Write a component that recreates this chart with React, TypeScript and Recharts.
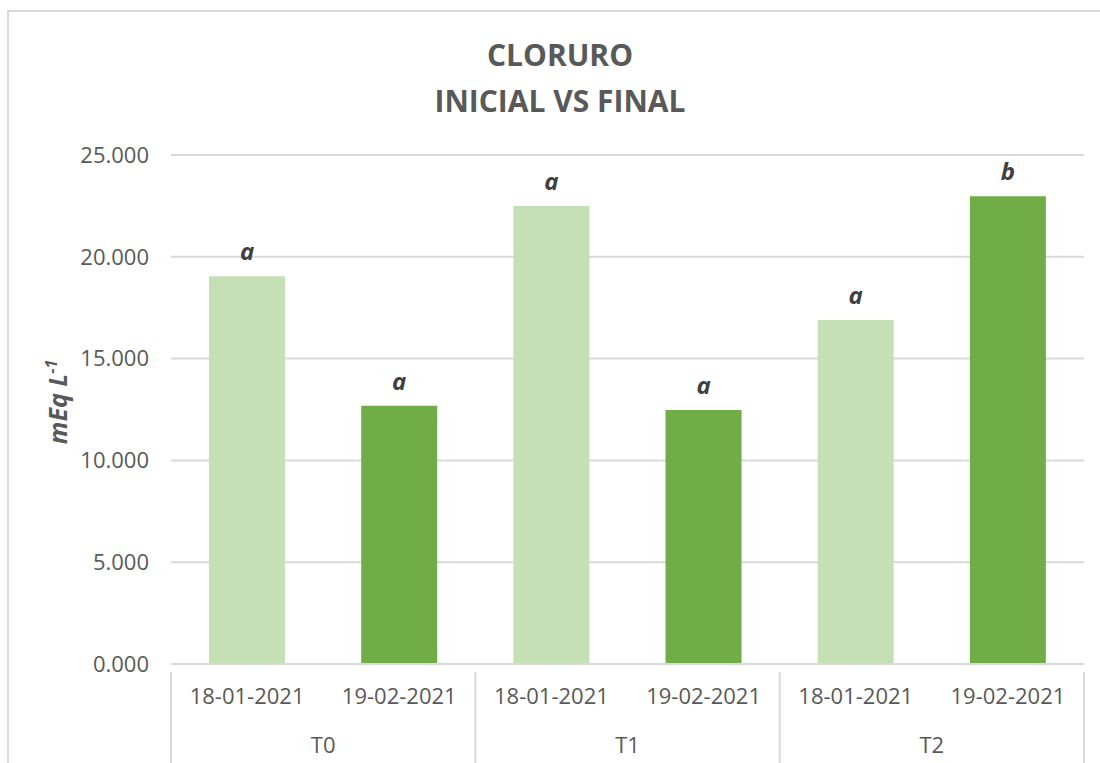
import React from "react"
import { BarChart, Bar, XAxis, YAxis, CartesianGrid, Cell, LabelList } from "recharts"

const dates = ["18-01-2021", "19-02-2021", "18-01-2021", "19-02-2021", "18-01-2021", "19-02-2021"]
const groups = ["T0", "T0", "T1", "T1", "T2", "T2"]
const values = [19.05, 12.68, 22.5, 12.48, 16.9, 22.98]
const letters = ["a", "a", "a", "a", "a", "b"]
const yTicks = [0, 5, 10, 15, 20, 25]

const LIGHT = "#C5E0B4"
const DARK = "#70AD47"
const TEXT = "#595959"
const LINE = "#D9D9D9"
const FONT = "'Open Sans', sans-serif"

const data = dates.map((d, i) => ({ key: i, date: d, group: groups[i], value: values[i], letter: letters[i] }))

const DateTick = ({ x, y, payload }: any) => (
  <text x={x} y={y} dy={32} textAnchor="middle" fill={TEXT} fontSize={22} fontFamily={FONT}>
    {dates[payload.index] ?? payload.value}
  </text>
)

const GroupTick = ({ x, y, payload, index }: any) => {
  const half = payload.offset ?? 0
  const top = y - 50
  const bottom = y + 43
  return (
    <g>
      <line x1={x - half} x2={x - half} y1={top} y2={bottom} stroke={LINE} strokeWidth={2} />
      {index === 2 && <line x1={x + half} x2={x + half} y1={top} y2={bottom} stroke={LINE} strokeWidth={2} />}
      <text x={x} y={y} dy={31} textAnchor="middle" fill={TEXT} fontSize={22} fontFamily={FONT}>
        {payload.value}
      </text>
    </g>
  )
}

const YLabel = () => (
  <text
    transform="translate(67,402) rotate(-90)"
    textAnchor="middle"
    fill={TEXT}
    fontSize={25}
    fontWeight="bold"
    fontStyle="italic"
    fontFamily={FONT}
  >
    mEq L
    <tspan fontSize={16} dy={-10}>-1</tspan>
  </text>
)

export default function App() {
  return (
    <div style={{ position: "absolute", left: 0, top: 0, width: 1100, height: 763, background: "#fff", overflow: "hidden" }}>
      <div
        style={{
          position: "absolute",
          left: 7,
          top: 10,
          width: 1100,
          height: 760,
          borderLeft: `2px solid ${LINE}`,
          borderTop: `2px solid ${LINE}`,
        }}
      />
      <div
        style={{
          position: "absolute",
          left: 0,
          top: 32,
          width: 1120,
          textAlign: "center",
          color: TEXT,
          fontFamily: FONT,
          fontWeight: 700,
          fontSize: 30,
          lineHeight: "46px",
        }}
      >
        <div>CLORURO</div>
        <div>INICIAL VS FINAL</div>
      </div>
      <div style={{ position: "absolute", left: 0, top: 0 }}>
        <BarChart
          width={1100}
          height={763}
          data={data}
          margin={{ top: 155, right: 16, bottom: 6, left: 0 }}
          barCategoryGap="25%"
        >
          <CartesianGrid vertical={false} stroke={LINE} strokeWidth={2} />
          <XAxis
            dataKey="key"
            axisLine={{ stroke: LINE, strokeWidth: 2 }}
            tickLine={false}
            tick={<DateTick />}
            height={50}
            interval={0}
          />
          <XAxis
            xAxisId="grp"
            dataKey="group"
            allowDuplicatedCategory={false}
            axisLine={false}
            tickLine={false}
            tick={<GroupTick />}
            height={43}
            interval={0}
          />
          <YAxis
            domain={[0, 25]}
            ticks={yTicks}
            width={171}
            axisLine={false}
            tickLine={false}
            tickSize={0}
            tickMargin={22}
            tickFormatter={(v: number) => v.toFixed(3)}
            tick={{ fill: TEXT, fontSize: 22, fontFamily: FONT }}
            label={<YLabel />}
          />
          <Bar dataKey="value" isAnimationActive={false}>
            {data.map((d, i) => (
              <Cell key={i} fill={i % 2 === 0 ? LIGHT : DARK} />
            ))}
            <LabelList
              dataKey="letter"
              position="top"
              offset={16}
              fill="#404040"
              fontSize={24}
              fontWeight="bold"
              fontStyle="italic"
              fontFamily={FONT}
            />
          </Bar>
        </BarChart>
      </div>
    </div>
  )
}
